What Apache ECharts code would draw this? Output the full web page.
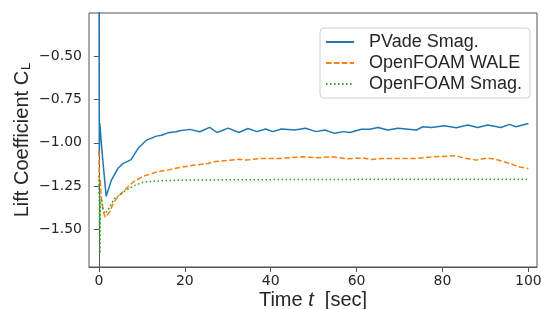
<!DOCTYPE html>
<html>
<head>
<meta charset="utf-8">
<script src="https://cdn.jsdelivr.net/npm/echarts@6/dist/echarts.min.js"></script>
<style>
  html, body { margin: 0; padding: 0; background: #fff; }
  #chart { width: 541px; height: 309px; }
</style>
</head>
<body>
<div id="chart"></div>
<script>
// tick labels
var xTicks = [0, 20, 40, 60, 80, 100];
var yTicks = [-1.5, -1.25, -1.0, -0.75, -0.5];

// PVade Smag.
var pvadeT = [0, 0.1, 0.2, 0.7, 1.1, 1.7, 2.9, 4.4, 5.6, 6.8, 7.5, 9.1, 11.1, 13.4, 14.6, 16.1, 18.0, 18.8, 21.2, 23.5,
    25.8, 27.5, 30.1, 32.6, 34.7, 36.8, 38.8, 40.5, 42.5, 45.6, 48.1, 50.6, 52.6, 54.9, 56.8, 58.4, 61.1, 63.0, 65.0,
    67.3, 69.6, 73.9, 75.4, 77.4, 80.5, 83.2, 85.9, 88.2, 90.5, 93.6, 95.6, 97.1, 100];
var pvadeCL = [0.5, -1.06, -0.885, -1.04, -1.15, -1.31, -1.217, -1.149, -1.12, -1.106, -1.097, -1.033, -0.984, -0.961,
    -0.956, -0.942, -0.936, -0.93, -0.922, -0.936, -0.91, -0.94, -0.915, -0.94, -0.917, -0.935, -0.92, -0.935, -0.92,
    -0.926, -0.915, -0.935, -0.926, -0.945, -0.935, -0.94, -0.921, -0.921, -0.911, -0.926, -0.916, -0.926, -0.907,
    -0.911, -0.901, -0.913, -0.897, -0.911, -0.897, -0.911, -0.893, -0.907, -0.888];

// OpenFOAM WALE
var waleT = [0, 0.1, 0.2, 0.3, 0.5, 1.0, 1.5, 1.9, 2.5, 3.3, 4.1, 5.2, 6.5, 8.0, 10.3, 13.4, 16.5, 18.8, 21.9, 25.4,
    26.6, 32.8, 34.3, 37.4, 42.1, 47.5, 50.5, 54.5, 57.6, 61.5, 63.4, 66.1, 73.9, 77.8, 83.2, 85.1, 87.8, 90.5, 92.4,
    94.3, 96.3, 98.0, 100];
var waleCL = [-1.05, -1.2, -1.24, -1.21, -1.3, -1.4, -1.43, -1.44, -1.4, -1.352, -1.323, -1.294, -1.262, -1.227, -1.194,
    -1.169, -1.155, -1.143, -1.13, -1.12, -1.11, -1.095, -1.1, -1.091, -1.09, -1.081, -1.086, -1.081, -1.092, -1.088,
    -1.097, -1.09, -1.09, -1.081, -1.075, -1.088, -1.1, -1.088, -1.095, -1.11, -1.125, -1.14, -1.149];

// OpenFOAM Smag.
var smagT = [0, 0.05, 0.1, 0.15, 0.2, 0.25, 0.35, 0.6, 1.0, 1.4, 2.1, 3.6, 6.0, 8.0, 10.3, 13.4, 16.5, 20, 30, 50, 70, 100];
var smagCL = [-1.19, -1.3, -1.22, -1.5, -1.3, -1.64, -1.35, -1.33, -1.38, -1.41, -1.39, -1.323, -1.28, -1.25, -1.228,
    -1.221, -1.218, -1.216, -1.214, -1.212, -1.211, -1.211];

function pairs(t, v) {
    var out = [];
    for (var i = 0; i < t.length; i++) {
        out.push([t[i], v[i]]);
    }
    return out;
}

function lineSeries(name, t, v, color, type) {
    return {
        name: name,
        type: 'line',
        data: pairs(t, v),
        showSymbol: false,
        symbol: 'none',
        smooth: false,
        clip: true,
        lineStyle: { color: color, width: 1.5, type: type },
        itemStyle: { color: color }
    };
}

var textColor = '#262626';
var spine = '#555';

var chart = echarts.init(document.getElementById('chart'));
var option = {
    animation: false,
    grid: {
        left: 89, right: 4, top: 13, bottom: 42,
        outerBoundsMode: 'none',
        containLabel: false,
        show: true, borderColor: spine, borderWidth: 1, backgroundColor: '#fff'
    },
    legend: {
        orient: 'vertical',
        left: 320, top: 28,
        padding: [4, 8, 4, 5],
        itemGap: 1,
        itemWidth: 28,
        itemHeight: 14,
        itemStyle: { opacity: 0 },
        backgroundColor: '#fff',
        borderColor: '#d0d0d0',
        borderWidth: 1,
        borderRadius: 4,
        textStyle: {
            fontFamily: 'Liberation Sans', fontSize: 18, color: textColor,
            lineHeight: 20, padding: [0, 0, 0, 10]
        },
        data: ['PVade Smag.', 'OpenFOAM WALE', 'OpenFOAM Smag.']
    },
    xAxis: {
        type: 'value',
        min: -2.3, max: 102,
        name: 'Time {it|t}  [sec]',
        nameLocation: 'middle',
        nameGap: 23,
        nameMoveOverlap: false,
        nameTextStyle: {
            fontFamily: 'Liberation Sans', fontSize: 20, color: textColor,
            rich: { it: { fontFamily: 'Liberation Sans', fontStyle: 'italic', fontSize: 20, color: textColor } }
        },
        axisLine: { show: true, lineStyle: { color: spine } },
        axisTick: { show: true, length: 5, customValues: xTicks, lineStyle: { color: spine } },
        axisLabel: {
            customValues: xTicks, margin: 7,
            fontFamily: 'DejaVu Sans', fontSize: 14, color: textColor
        },
        splitLine: { show: false }
    },
    yAxis: {
        type: 'value',
        min: -1.719, max: -0.248,
        name: 'Lift Coefficient C{sub|L}',
        nameLocation: 'middle',
        nameRotate: 90,
        nameGap: 56,
        nameMoveOverlap: false,
        nameTextStyle: {
            fontFamily: 'Liberation Sans', fontSize: 20, color: textColor,
            rich: { sub: { fontFamily: 'Liberation Sans', fontSize: 13, color: textColor, verticalAlign: 'bottom', padding: [8, 0, 0, 1] } }
        },
        axisLine: { show: true, lineStyle: { color: spine } },
        axisTick: { show: true, length: 5, customValues: yTicks, lineStyle: { color: spine } },
        axisLabel: {
            customValues: yTicks, margin: 7,
            fontFamily: 'DejaVu Sans', fontSize: 14, color: textColor,
            formatter: function (v) { return (v < 0 ? '\u2212' : '') + Math.abs(v).toFixed(2); }
        },
        splitLine: { show: false }
    },
    series: [
        lineSeries('PVade Smag.', pvadeT, pvadeCL, '#1f77b4', 'solid'),
        lineSeries('OpenFOAM WALE', waleT, waleCL, '#ff7f0e', [5.5, 2.4]),
        lineSeries('OpenFOAM Smag.', smagT, smagCL, '#2ca02c', [1.5, 2.5])
    ]
};
chart.setOption(option);
</script>
</body>
</html>
